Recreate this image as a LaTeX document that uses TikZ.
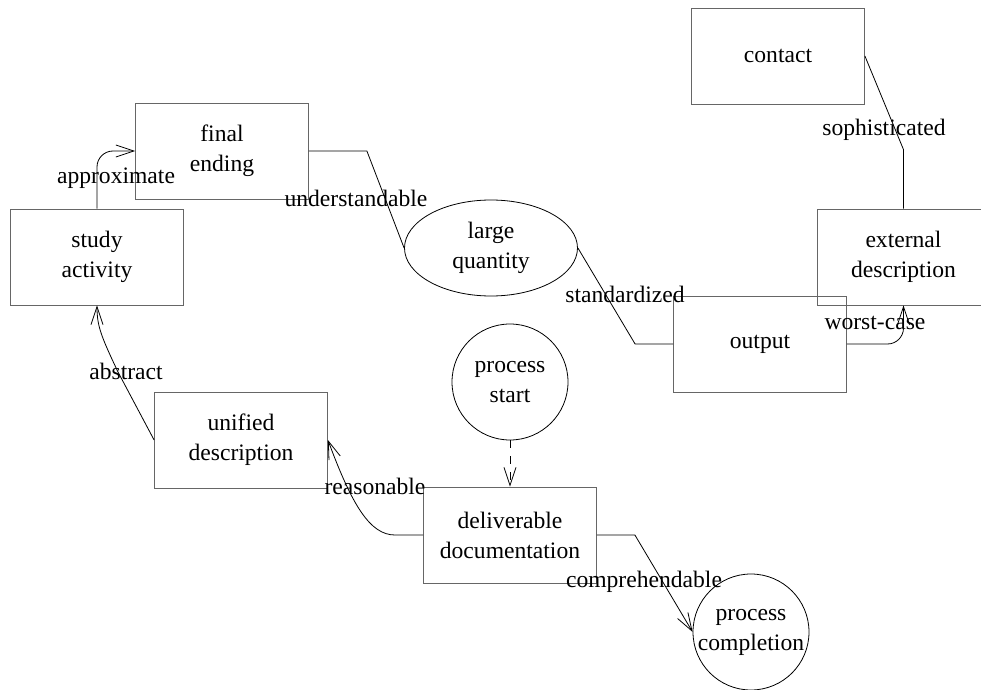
\documentclass[tikz,border=0pt]{standalone}
\usepackage{fontspec}
\setmainfont{Liberation Serif}
\usetikzlibrary{shapes.geometric, arrows.meta}

\begin{document}
\begin{tikzpicture}[
        x=0.5pt, y=-0.5pt,
        font=\fontsize{11.8pt}{15pt}\selectfont,
        box/.style={draw=black!60, rectangle, minimum width=86.5pt, minimum height=48pt, inner sep=0pt, align=center},
        blob/.style={draw, ellipse, minimum width=86.5pt, minimum height=48pt, inner sep=0pt, align=center},
        terminal/.style={draw, circle, minimum size=58pt, inner sep=0pt, align=center},
        lbl/.style={inner sep=0pt},
        arrow/.style={-{Straight Barb[length=9pt, width=6pt]}},
        link/.style={-}
    ]
        \useasboundingbox (0,0) rectangle (981,690);
        % Nodes
        \node[box] (final) at (222,151) {final\\ending};
        \node[box] (study) at (97,257) {study\\activity};
        \node[box] (unified) at (241,440) {unified\\description};
        \node[box] (deliv) at (510,535) {deliverable\\documentation};
        \node[terminal] (start) at (510,382) {process\\start};
        \node[terminal] (completion) at (751,632) {process\\completion};
        \node[blob] (large) at (491,248) {large\\quantity};
        \node[box] (output) at (760,344) {output};
        \node[box] (external) at (903.5,257) {external\\description};
        \node[box] (contact) at (778,56) {contact};

        % Labels
        \node[lbl] (lapprox) at (116,178) {approximate};
        \node[lbl] (lunder) at (356,198) {understandable};
        \node[lbl] (lstand) at (625,294) {standardized};
        \node[lbl] (lworst) at (875,323) {worst-case};
        \node[lbl] (lsoph) at (884,130) {sophisticated};
        \node[lbl] (labstract) at (126,371) {abstract};
        \node[lbl] (lreason) at (375,486) {reasonable};
        \node[lbl] (lcompr) at (644,582) {comprehendable};

        % Arrows
        \draw[arrow, rounded corners=8pt] (study.north) |- (final.west);
        \draw[link] (final.east) -- ++(58,0) -- (large.west);
        \draw[link] (large.east) -- ([xshift=-19pt]output.west) -- (output.west);
        \draw[arrow, rounded corners=8pt] (output.east) -| (external.south);
        \draw[link] (external.north) -- ++(0,-59) -- (contact.east);
        \draw[arrow] (unified.west) -- (118,372) .. controls (101,336) and (97,326) .. (study.south);
        \draw[arrow] (deliv.west) -- (395,535) .. controls (370,535) and (352,505) .. (unified.east);
        \draw[arrow] (deliv.east) -- ++(38,0) -- (completion.west);
        \draw[arrow, dash pattern=on 4pt off 4pt] (start.south) -- (deliv.north);
    \end{tikzpicture}
\end{document}
